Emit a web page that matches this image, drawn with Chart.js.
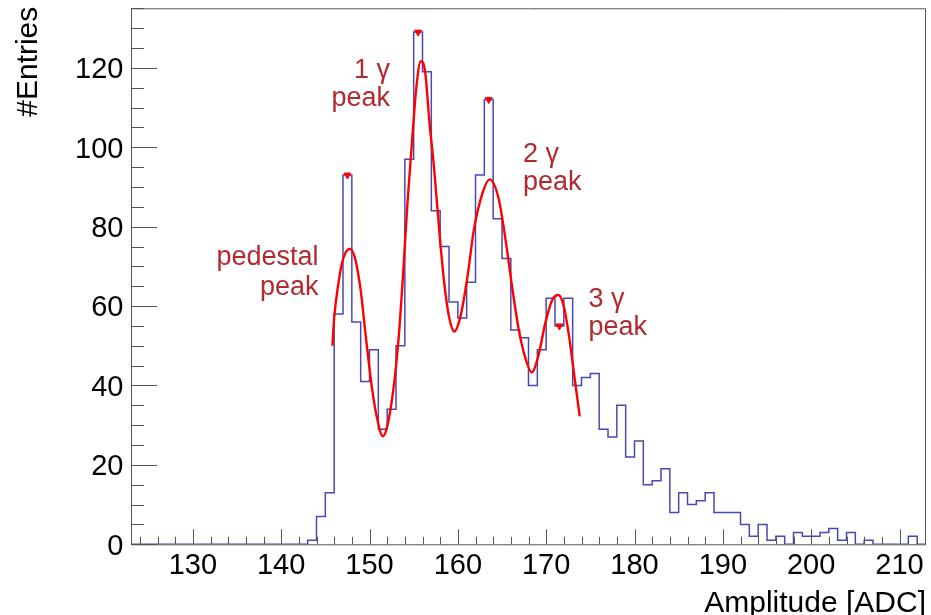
<!DOCTYPE html>
<html>
<head>
<meta charset="utf-8">
<script src="https://cdn.jsdelivr.net/npm/chart.js@4.4.0/dist/chart.umd.min.js"></script>
<style>
html,body{margin:0;padding:0;background:#fff;}
#wrap{width:931px;height:615px;}
</style>
</head>
<body>
<div id="wrap"><canvas id="c" width="931" height="615"></canvas></div>
<script>
// ---- data ----
const binStart = 123;           // first bin lower edge (ADC)
const binWidth = 1;
const counts = [
  0,0,0,0,0,0,0,0,0,0,0,0,0,0,0,0,0,0,0,0,
  1,7,13,58,93,56,41,49,29,34,50,97,129,119,84,75,61,57,66,93,
  112,82,72,54,52,40,49,62,55,62,40,42,43,29,27,35,22,26,15,16,
  19,8,13,10,11,13,8,8,8,5,2,5,1,2,0,3,2,2,3,4,
  1,3,0,1,0,0,0,0,2,0
];
const fitX = [145.8,146.0,146.5,146.9,147.3,147.8,148.3,148.65,149.0,149.6,150.3,150.9,151.5,152.0,152.7,153.3,153.8,154.3,154.9,155.3,155.8,156.3,156.8,157.3,157.9,158.45,159.0,159.6,160.3,161.1,161.8,162.8,163.6,164.65,165.4,166.2,166.9,167.7,168.35,169.1,169.9,170.7,171.4,172.0,172.6,173.1,173.8];
const fitY = [50,57,66,71,73.5,74.4,72.5,69,64,52,39,31.3,27.2,29.6,39,52,68,86,104,115,121.7,119,106,95,79,66,57.4,53.6,57.4,67.5,79,88.5,91.9,86.8,76.7,64,54,46.5,43.3,47.3,55.7,61.6,62.8,59.9,52.3,43.9,32.2];
const peakX = [147.5,155.5,163.5,171.5];
const peakY = [93,129,112,55];
const xTicks = [130,140,150,160,170,180,190,200,210];
const yTicks = [0,20,40,60,80,100,120];
const xTitle = 'Amplitude [ADC]';
const yTitle = '#Entries';
const peakLabels = [
  {lines:['pedestal','peak'], x:147.5, align:'right'},
  {lines:['1 γ','peak'], x:155.5, align:'right'},
  {lines:['2 γ','peak'], x:163.5, align:'left'},
  {lines:['3 γ','peak'], x:171.5, align:'left'}
];

// ---- build ----
const histPts = counts.map((c,i)=>({x:binStart+i*binWidth, y:c}));
histPts.push({x:binStart+counts.length*binWidth, y:counts[counts.length-1]});
const fitPts = fitX.map((x,i)=>({x:x,y:fitY[i]}));
const peakPts = peakX.map((x,i)=>({x:x,y:peakY[i]}));

const XMIN = binStart, XMAX = binStart+counts.length*binWidth;
const YMIN = 0, YMAX = 135;

// label placement (pixel offsets relative to the peak positions, style only)
const labelPix = [
  {px:318.5, base:[265,295]},
  {px:390, base:[78,106]},
  {px:523, base:[161.5,190]},
  {px:588.5, base:[306.5,335]}
];

const framePlugin = {
  id:'frame',
  afterDatasetsDraw(chart){
    const ctx = chart.ctx, a = chart.chartArea;
    const xs = chart.scales.x, ys = chart.scales.y;
    ctx.save();
    ctx.strokeStyle = '#555';
    ctx.lineWidth = 1;
    ctx.beginPath();
    ctx.rect(a.left+0.5, a.top+0.5, a.right-a.left-1, a.bottom-a.top);
    ctx.stroke();
    // y ticks (inside)
    ctx.beginPath();
    for(let v=YMIN; v<=YMAX; v+=5){
      const y = Math.round(ys.getPixelForValue(v))+0.5;
      const len = (v%20===0)?26:13;
      ctx.moveTo(a.left, y); ctx.lineTo(a.left+len, y);
    }
    // x ticks (inside)
    for(let v=Math.ceil(XMIN/2)*2; v<=XMAX; v+=2){
      const x = Math.round(xs.getPixelForValue(v))+0.5;
      const len = (v%10===0)?15:7.5;
      ctx.moveTo(x, a.bottom); ctx.lineTo(x, a.bottom-len);
    }
    ctx.stroke();
    ctx.restore();
  },
  afterDraw(chart){
    const ctx = chart.ctx, a = chart.chartArea;
    const xs = chart.scales.x, ys = chart.scales.y;
    ctx.save();
    ctx.fillStyle = '#000';
    ctx.font = '29px "Liberation Sans", Arial, sans-serif';
    ctx.textBaseline = 'alphabetic';
    ctx.textAlign = 'center';
    xTicks.forEach(v=>{ ctx.fillText(String(v), xs.getPixelForValue(v), 573.5); });
    ctx.textAlign = 'right';
    yTicks.forEach(v=>{ ctx.fillText(String(v), 123.5, ys.getPixelForValue(v)+10.4); });
    ctx.font = '30px "Liberation Sans", Arial, sans-serif';
    ctx.textAlign = 'right';
    ctx.fillText(xTitle, a.right, 612);
    ctx.save();
    ctx.translate(36.5, 6.7);
    ctx.rotate(-Math.PI/2);
    ctx.textAlign = 'right';
    ctx.fillText(yTitle, 0, 0);
    ctx.restore();
    // peak labels
    ctx.fillStyle = '#b02a30';
    ctx.font = '27px "Liberation Sans", Arial, sans-serif';
    peakLabels.forEach((l,i)=>{
      ctx.textAlign = l.align;
      l.lines.forEach((t,j)=>{ ctx.fillText(t, labelPix[i].px, labelPix[i].base[j]); });
    });
    ctx.restore();
  }
};

new Chart(document.getElementById('c'), {
  type:'line',
  data:{datasets:[
    {label:'hist', data:histPts, stepped:'before', borderColor:'#4848b4', borderWidth:1.5, pointRadius:0, fill:false, order:3},
    {label:'fit', data:fitPts, borderColor:'#ff0000', borderWidth:2.4, pointRadius:0, tension:0.4, cubicInterpolationMode:'monotone', fill:false, order:2},
    {label:'peaks', type:'scatter', data:peakPts, pointStyle:'triangle', rotation:180, pointRadius:4, backgroundColor:'#ff0000', borderColor:'#ff0000', borderWidth:1, showLine:false, order:1}
  ]},
  options:{
    responsive:false, animation:false, devicePixelRatio:1,
    layout:{padding:{left:131, right:4.3, top:8.3, bottom:70.7}},
    plugins:{legend:{display:false}, tooltip:{enabled:false}},
    scales:{
      x:{type:'linear', min:XMIN, max:XMAX, display:false},
      y:{type:'linear', min:YMIN, max:YMAX, display:false}
    }
  },
  plugins:[framePlugin]
});
</script>
</body>
</html>
